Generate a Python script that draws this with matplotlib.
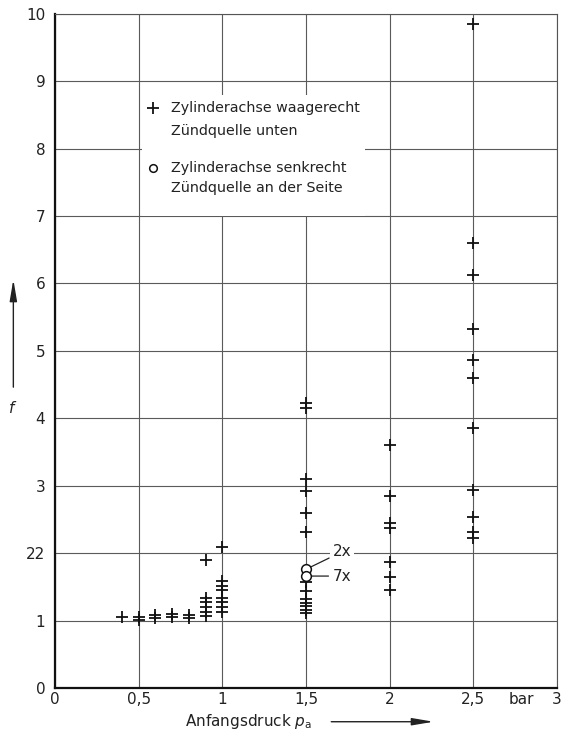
import matplotlib
matplotlib.use("Agg")
import matplotlib.pyplot as plt
from matplotlib.patches import Rectangle

# ---- data ----
plus_x = ([0.4] +
          [0.5, 0.5] +
          [0.6, 0.6] +
          [0.7, 0.7] +
          [0.8, 0.8] +
          [0.9] * 6 +
          [1.0] * 8 +
          [1.5] * 13 +
          [2.0] * 7 +
          [2.5] * 11)
plus_y = ([1.05] +
          [1.06, 1.01] +
          [1.09, 1.04] +
          [1.10, 1.05] +
          [1.08, 1.04] +
          [1.90, 1.34, 1.27, 1.20, 1.13, 1.07] +
          [2.09, 1.58, 1.51, 1.45, 1.34, 1.27, 1.20, 1.12] +
          [4.22, 4.15, 3.10, 2.92, 2.59, 2.32, 1.57, 1.44, 1.32, 1.26, 1.21, 1.16, 1.11] +
          [3.61, 2.85, 2.45, 2.38, 1.87, 1.64, 1.45] +
          [9.84, 6.60, 6.13, 5.32, 4.87, 4.60, 3.85, 2.94, 2.53, 2.32, 2.22])

circle_x = [1.5, 1.5]
circle_y = [1.76, 1.66]
circle_counts = ["2x", "7x"]

xticks = [0, 0.5, 1, 1.5, 2, 2.5, 3]
xticklabels = ["0", "0,5", "1", "1,5", "2", "2,5", "3"]
yticks = list(range(0, 11))
yticklabels = ["0", "1", "22", "3", "4", "5", "6", "7", "8", "9", "10"]

legend_lines_plus = ["Zylinderachse waagerecht", "Zündquelle unten"]
legend_lines_circle = ["Zylinderachse senkrecht", "Zündquelle an der Seite"]
xlabel = r"Anfangsdruck $p_\mathrm{a}$"
ylabel = r"$f$"
unit = "bar"

# ---- figure ----
plt.rcParams['font.family'] = ['DejaVu Sans']
plt.rcParams['mathtext.fontset'] = 'dejavusans'
fig = plt.figure(figsize=(5.67, 7.39), dpi=100)
ax = fig.add_axes([0.097, 0.069, 0.885, 0.9125])

ax.set_xlim(0, 3)
ax.set_ylim(0, 10)
ax.set_xticks(xticks)
ax.set_xticklabels(xticklabels)
ax.set_yticks(yticks)
ax.set_yticklabels(yticklabels)
ax.tick_params(length=0, labelsize=11, colors='#222222')
ax.tick_params(axis='x', pad=3)
ax.tick_params(axis='y', pad=7)
ax.grid(True, color='#5a5a5a', lw=0.8)
ax.set_axisbelow(True)
for s in ['top', 'right']:
    ax.spines[s].set_linewidth(0.8)
    ax.spines[s].set_color('#555555')
for s in ['left', 'bottom']:
    ax.spines[s].set_linewidth(1.6)
    ax.spines[s].set_color('#111111')

ax.plot(plus_x, plus_y, linestyle='none', marker='+', ms=8, mew=1.3,
        color='#111111', zorder=3)
ax.plot(circle_x, circle_y, linestyle='none', marker='o', ms=7, mew=1.1,
        mfc='white', mec='#111111', zorder=4)

# count annotations
ax.annotate(circle_counts[0], xy=(circle_x[0], circle_y[0]),
            xytext=(1.66, 2.02), fontsize=11, va='center', ha='left',
            color='#222222',
            bbox=dict(boxstyle='square,pad=0.15', fc='white', ec='none'),
            arrowprops=dict(arrowstyle='-', color='#222222', lw=0.9,
                            shrinkA=1, shrinkB=3))
ax.annotate(circle_counts[1], xy=(circle_x[1], circle_y[1]),
            xytext=(1.66, 1.66), fontsize=11, va='center', ha='left',
            color='#222222',
            arrowprops=dict(arrowstyle='-', color='#222222', lw=0.9,
                            shrinkA=1, shrinkB=3))

# legend (manual, white box without frame)
ax.add_patch(Rectangle((0.1725, 0.700), 0.446, 0.180, transform=ax.transAxes,
                       facecolor='white', edgecolor='none', zorder=2.5))
ax.plot([0.195], [0.860], transform=ax.transAxes, linestyle='none',
        marker='+', ms=9, mew=1.3, color='#111111', zorder=3, clip_on=False)
ax.plot([0.195], [0.771], transform=ax.transAxes, linestyle='none',
        marker='o', ms=5.5, mew=1.1, mfc='white', mec='#111111', zorder=3,
        clip_on=False)
for txt, yy in zip(legend_lines_plus + legend_lines_circle,
                   [0.860, 0.826, 0.771, 0.7415]):
    ax.text(0.232, yy, txt, transform=ax.transAxes, ha='left', va='center',
            fontsize=10.3, color='#222222', zorder=3)

# unit label
ax.text(2.79, -0.0055, unit, transform=ax.get_xaxis_transform(),
        ha='center', va='top', fontsize=11, color='#222222')

# x label with arrow
ax.text(0.385, -0.05, xlabel, transform=ax.transAxes, ha='center',
        va='center', fontsize=11, color='#222222')
ax.annotate('', xy=(0.76, -0.05), xytext=(0.545, -0.05),
            xycoords='axes fraction', textcoords='axes fraction',
            arrowprops=dict(arrowstyle='-|>,head_length=1.3,head_width=0.22',
                            color='#222222', lw=1.0), annotation_clip=False)

# y label with arrow
ax.text(-0.085, 0.415, ylabel, transform=ax.transAxes, ha='center',
        va='center', fontsize=11, color='#222222')
ax.annotate('', xy=(-0.083, 0.61), xytext=(-0.083, 0.442),
            xycoords='axes fraction', textcoords='axes fraction',
            arrowprops=dict(arrowstyle='-|>,head_length=1.3,head_width=0.22',
                            color='#222222', lw=1.0), annotation_clip=False)

fig.savefig('out.png', dpi=100)
